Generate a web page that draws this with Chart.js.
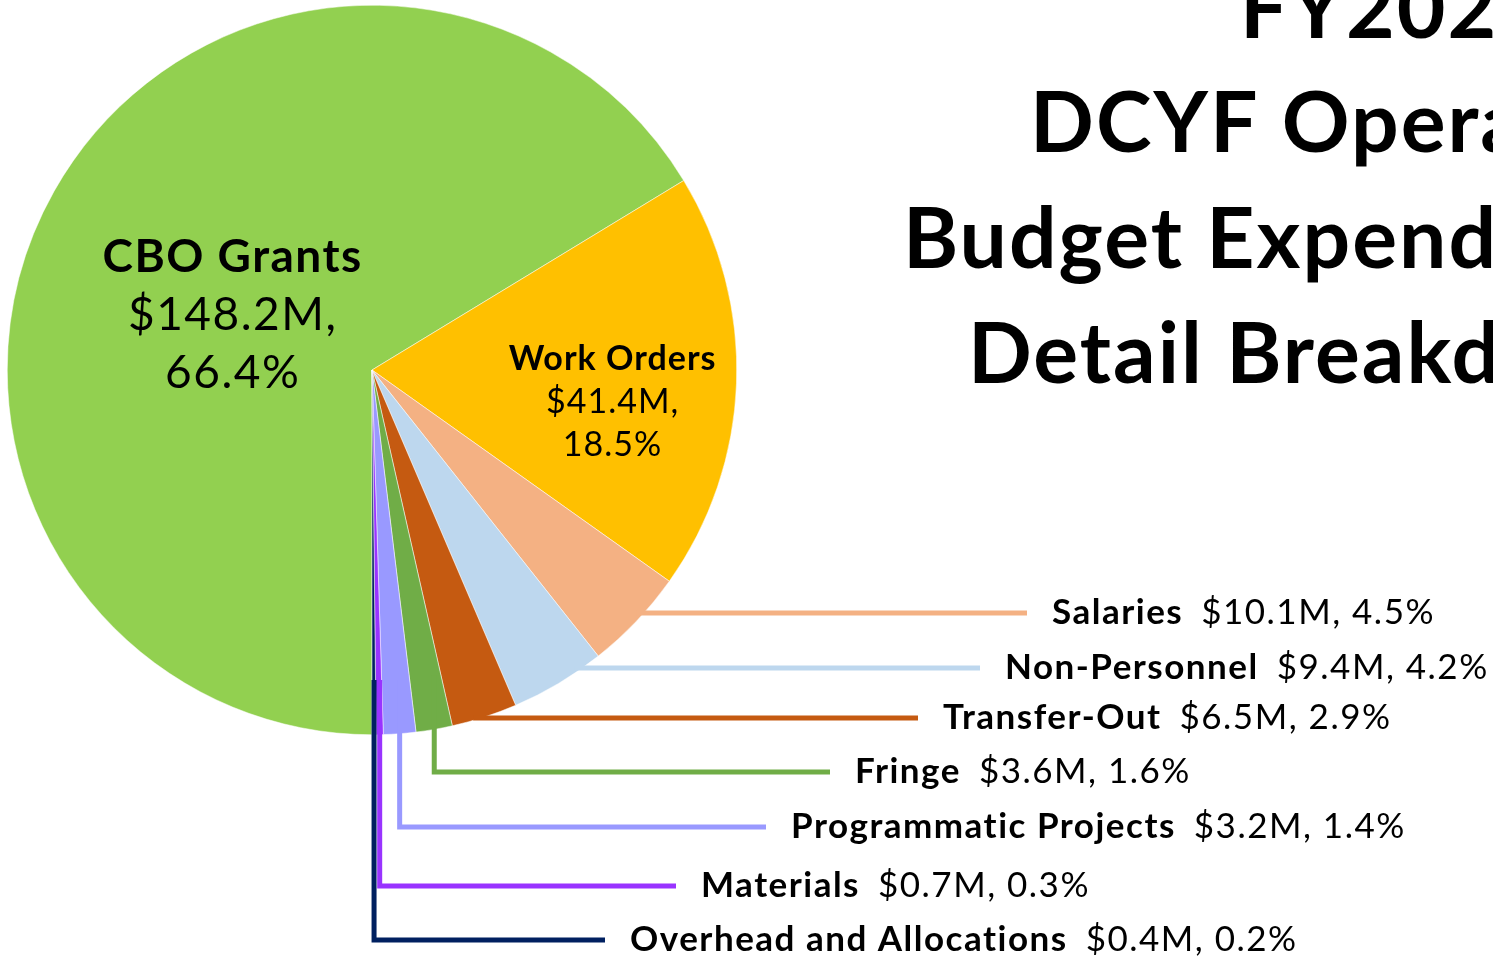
<!DOCTYPE html>
<html>
<head>
<meta charset="utf-8">
<script src="https://cdn.jsdelivr.net/npm/chart.js@4.4.1/dist/chart.umd.min.js"></script>
<style>
  html, body { margin: 0; padding: 0; background: #fff; }
  #wrap { width: 1493px; height: 963px; position: relative; }
</style>
</head>
<body>
<div id="wrap"><canvas id="budgetChart" width="1493" height="963"></canvas></div>
<script>
// data
var categories = ['CBO Grants', 'Work Orders', 'Salaries', 'Non-Personnel', 'Transfer-Out',
  'Fringe', 'Programmatic Projects', 'Materials', 'Overhead and Allocations'];
var amounts = [148.2, 41.4, 10.1, 9.4, 6.5, 3.6, 3.2, 0.7, 0.4];   // $M
var shares = [66.4, 18.5, 4.5, 4.2, 2.9, 1.6, 1.4, 0.3, 0.2];      // %
var sliceColors = ['#92D050', '#FFC000', '#F4B183', '#BDD7EE', '#C55A11',
  '#70AD47', '#9999FF', '#9933FF', '#002060'];
var titleLines = ['FY2023-24', 'DCYF Operating', 'Budget Expenditure', 'Detail Breakdown'];

// callout layout for the small slices (index 2..8)
var calloutY = [613, 668, 718, 772, 827, 886, 940];
var calloutEndX = [1027, 980, 918, 830, 766, 676, 605];

var FONT = 'Lato, "DejaVu Sans", sans-serif';

function money(v) { return '$' + v.toFixed(1) + 'M'; }

var pieLabels = {
  id: 'pieLabels',
  afterDraw: function(chart) {
    var c = chart.ctx;
    var meta = chart.getDatasetMeta(0);
    c.save();
    c.fillStyle = '#000';

    // big inside labels
    var inside = [
      { i: 0, f: 0.41, size: 46, gap: 58, dx: -9, dy: 18, sp: '1.5px' },
      { i: 1, f: 0.66, size: 34, gap: 43, dx: 0, dy: 23, sp: '1px' }
    ];
    inside.forEach(function(o) {
      var a = meta.data[o.i];
      var mid = (a.startAngle + a.endAngle) / 2;
      var px = a.x + Math.cos(mid) * a.outerRadius * o.f + o.dx;
      var py = a.y + Math.sin(mid) * a.outerRadius * o.f + o.dy;
      c.letterSpacing = o.sp;
      c.textAlign = 'center';
      c.textBaseline = 'middle';
      c.font = 'bold ' + o.size + 'px ' + FONT;
      c.fillText(categories[o.i], px, py - o.gap);
      c.font = o.size + 'px ' + FONT;
      c.fillText(money(amounts[o.i]) + ',', px, py);
      c.fillText(shares[o.i].toFixed(1) + '%', px, py + o.gap);
    });

    // leader lines + callouts
    c.lineWidth = 5;
    c.lineCap = 'butt';
    c.letterSpacing = '1.5px';
    for (var k = 0; k < calloutY.length; k++) {
      var i = k + 2;
      var a = meta.data[i];
      var r = a.outerRadius;
      var mid = (a.startAngle + a.endAngle) / 2;
      var y = calloutY[k];
      c.strokeStyle = sliceColors[i];
      c.beginPath();
      if (k < 3) {
        var dy = y - a.y;
        var sx = a.x + Math.sqrt(r * r - dy * dy) - 8;
        c.moveTo(sx, y);
        c.lineTo(calloutEndX[k], y);
      } else {
        var vx = a.x + Math.cos(mid) * r;
        var sy = a.y + Math.sin(mid) * r * 0.85;
        c.moveTo(vx, sy);
        c.lineTo(vx, y);
        c.lineTo(calloutEndX[k], y);
      }
      c.stroke();

      var tx = calloutEndX[k] + 25;
      c.textAlign = 'left';
      c.textBaseline = 'middle';
      c.font = 'bold 35px ' + FONT;
      c.fillText(categories[i], tx, y);
      var w = c.measureText(categories[i]).width;
      c.font = '35px ' + FONT;
      c.fillText(money(amounts[i]) + ', ' + shares[i].toFixed(1) + '%', tx + w + 18, y);
    }

    // title, runs off the right edge like the original slide
    var titleX = [1240, 1030, 903, 968];
    var titleBase = [38, 152, 268, 383];
    c.font = 'bold 84px ' + FONT;
    c.letterSpacing = '2px';
    c.textAlign = 'left';
    c.textBaseline = 'alphabetic';
    for (var t = 0; t < titleLines.length; t++) {
      c.fillText(titleLines[t], titleX[t], titleBase[t]);
    }
    c.restore();
  }
};

var budgetchart = document.getElementById('budgetChart');

let budgetChart = new Chart(budgetchart, {
  type: 'pie',
  data: {
    labels: categories,
    datasets: [
      {
        data: amounts,
        backgroundColor: sliceColors,
        borderColor: '#ffffff',
        borderWidth: 0.5
      }
    ]
  },
  options: {
    responsive: false,
    animation: false,
    rotation: 180,
    layout: { padding: { left: 7, top: 5, right: 756, bottom: 228 } },
    plugins: {
      legend: { display: false },
      tooltip: { enabled: false }
    }
  },
  plugins: [pieLabels]
});
</script>
</body>
</html>
